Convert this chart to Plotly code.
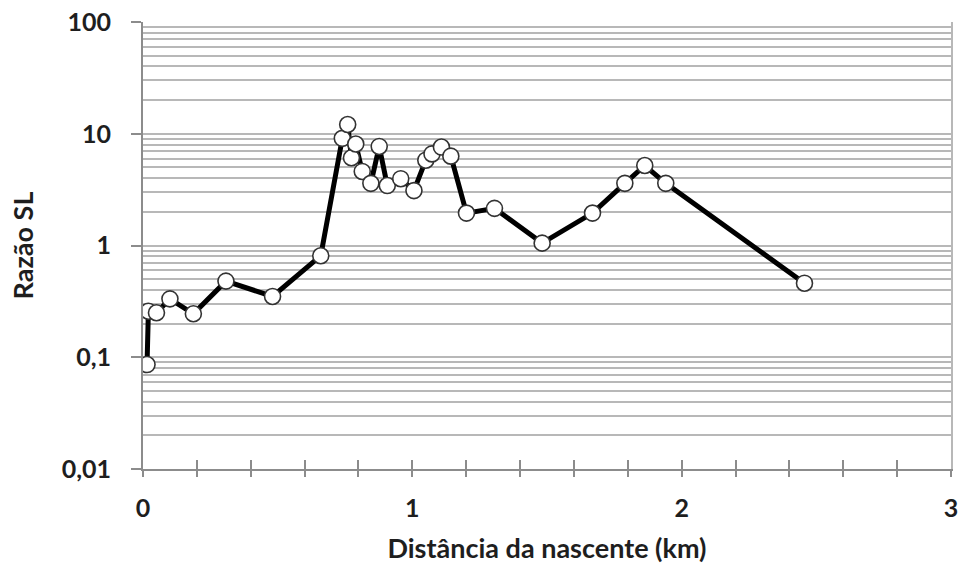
import plotly.graph_objects as go

# Data
distance_km = [0.015, 0.02, 0.05, 0.10, 0.187, 0.308, 0.481, 0.66,
               0.74, 0.76, 0.774, 0.79, 0.814, 0.846, 0.877, 0.907,
               0.957, 1.006, 1.05, 1.073, 1.108, 1.143, 1.201, 1.305,
               1.482, 1.669, 1.789, 1.863, 1.941, 2.456]
razao_sl = [0.086, 0.258, 0.25, 0.333, 0.245, 0.48, 0.35, 0.81,
            9.1, 12.1, 6.1, 8.1, 4.6, 3.6, 7.7, 3.44,
            3.96, 3.1, 5.8, 6.6, 7.6, 6.3, 1.95, 2.15,
            1.05, 1.95, 3.6, 5.2, 3.6, 0.46]

y_tickvals = [0.01, 0.1, 1, 10, 100]
y_ticktext = ["0,01", "0,1", "1", "10", "100"]
x_tickvals = [round(i * 0.2, 1) for i in range(16)]
x_ticktext = [str(int(v)) if abs(v - round(v)) < 1e-9 else "" for v in x_tickvals]

minor_vals = [m * 10 ** e for e in range(-2, 2) for m in range(2, 10)]

FONT = "Lato"
TXT = "#1e1e1e"
GRID = "#b8b8b8"
AX = "#8c8c8c"

fig = go.Figure()
fig.add_trace(go.Scatter(
    x=distance_km, y=razao_sl, mode="lines+markers",
    line=dict(color="black", width=5),
    marker=dict(size=16, color="white", line=dict(color="#333333", width=1.6)),
    showlegend=False,
))

fig.update_layout(
    width=958, height=567,
    margin=dict(l=143, r=7, t=22, b=98),
    paper_bgcolor="white", plot_bgcolor="white",
    font=dict(family=FONT, color=TXT),
    xaxis=dict(
        range=[0, 3], tickvals=x_tickvals, ticktext=x_ticktext,
        ticks="outside", ticklen=6, tickwidth=2, tickcolor=AX,
        showline=True, linecolor=AX, linewidth=2,
        showgrid=False, zeroline=False, automargin=False,
        ticklabelstandoff=10, ticklabeloverflow="allow",
        tickfont=dict(size=25, family=FONT, color=TXT, weight="bold"),
        title=dict(text="Distância da nascente (km)", standoff=18,
                   font=dict(size=27, family=FONT, color=TXT, weight="bold")),
    ),
    xaxis2=dict(
        range=[0, 3], overlaying="x", tickvals=x_tickvals,
        ticks="inside", ticklen=9, tickwidth=2, tickcolor=AX,
        showticklabels=False, showgrid=False, zeroline=False,
        showline=False, side="bottom", automargin=False,
    ),
    yaxis=dict(
        type="log", range=[-2, 2],
        tickvals=y_tickvals, ticktext=y_ticktext,
        ticks="outside", ticklen=10, tickwidth=2, tickcolor=AX,
        showline=True, linecolor=AX, linewidth=2,
        showgrid=True, gridcolor=GRID, gridwidth=1.6,
        minor=dict(tickvals=minor_vals, showgrid=True, gridcolor=GRID,
                   gridwidth=1.6, ticks=""),
        zeroline=False, mirror=False, automargin=False,
        ticklabelstandoff=15, ticklabeloverflow="allow",
        tickfont=dict(size=25, family=FONT, color=TXT, weight="bold"),
        title=dict(text="Razão SL", standoff=20,
                   font=dict(size=27, family=FONT, color=TXT, weight="bold")),
    ),
    yaxis2=dict(
        type="log", range=[-2, 2], overlaying="y", side="right",
        showticklabels=False, showgrid=False, zeroline=False, ticks="",
        showline=True, linecolor=GRID, linewidth=2, automargin=False,
    ),
)

# invisible helper trace so the overlay axes get drawn
fig.add_trace(go.Scatter(x=[None], y=[None], xaxis="x2", yaxis="y2",
                         showlegend=False, hoverinfo="skip"))

fig.write_html("out.html",
               config={"displayModeBar": False},
               post_script="document.body.style.margin='0';"
                           "document.body.style.overflow='hidden';")
